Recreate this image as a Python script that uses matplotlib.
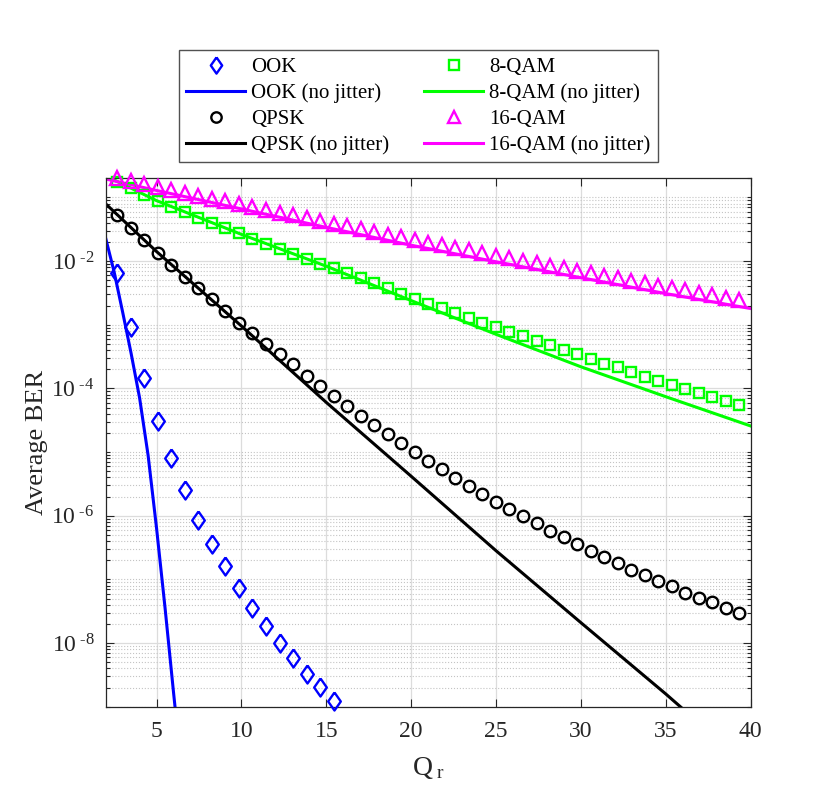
import numpy as np
import matplotlib
matplotlib.use("Agg")
import matplotlib.pyplot as plt
from matplotlib.ticker import LogLocator, FixedLocator, NullFormatter

plt.rcParams["font.family"] = ["Liberation Serif", "DejaVu Serif"]
plt.rcParams["mathtext.fontset"] = "custom"
plt.rcParams["mathtext.rm"] = "Liberation Serif"
plt.rcParams["mathtext.it"] = "Liberation Serif:italic"

# marker positions on the Q_r axis (same for every jittered curve)
q_markers = np.linspace(2.68, 39.34, 47)

# log10(BER), jittered curves (markers)
ook_log = [-2.18, -3.04, -3.83, -4.51, -5.10, -5.60, -6.06, -6.45, -6.79,
           -7.14, -7.45, -7.74, -8.00, -8.24, -8.49, -8.69, -8.91]

qpsk_log = [-1.27, -1.48, -1.67, -1.87, -2.06, -2.245, -2.43, -2.60, -2.785,
            -2.97, -3.135, -3.30, -3.46, -3.62, -3.80, -3.96, -4.12, -4.28,
            -4.43, -4.58, -4.72, -4.86, -5.00, -5.14, -5.27, -5.40, -5.53,
            -5.66, -5.78, -5.90, -6.01, -6.12, -6.24, -6.34, -6.44, -6.55,
            -6.65, -6.75, -6.85, -6.93, -7.03, -7.11, -7.21, -7.30, -7.36,
            -7.45, -7.53]

qam8_log = [-0.75, -0.85, -0.955, -1.055, -1.145, -1.23, -1.315, -1.40,
            -1.485, -1.565, -1.645, -1.725, -1.805, -1.885, -1.96, -2.04,
            -2.115, -2.19, -2.27, -2.35, -2.43, -2.51, -2.59, -2.67, -2.74,
            -2.81, -2.89, -2.97, -3.04, -3.11, -3.18, -3.26, -3.32, -3.40,
            -3.46, -3.54, -3.61, -3.67, -3.74, -3.815, -3.88, -3.95, -4.01,
            -4.07, -4.14, -4.20, -4.265]

qam16_log = [-0.700, -0.746, -0.792, -0.838, -0.883, -0.928, -0.973, -1.018,
             -1.063, -1.107, -1.151, -1.195, -1.239, -1.283, -1.326, -1.369,
             -1.412, -1.455, -1.498, -1.540, -1.582, -1.624, -1.666, -1.708,
             -1.749, -1.790, -1.831, -1.872, -1.913, -1.953, -1.993, -2.033,
             -2.073, -2.113, -2.152, -2.191, -2.230, -2.269, -2.308, -2.346,
             -2.384, -2.422, -2.460, -2.498, -2.535, -2.572, -2.609]

# no-jitter curves (lines)
q_ook_line = [2.0, 2.5, 3.0, 3.5, 4.0, 4.5, 5.0, 5.5, 6.0, 6.3]
ook_line_log = [-1.64, -2.17, -2.80, -3.45, -4.15, -5.05, -6.20, -7.45, -8.78, -9.55]

q_line = [2, 5, 10, 15, 20, 25, 30, 35, 36.5]
qpsk_line_log = [-1.10, -1.85, -3.02, -4.22, -5.38, -6.55, -7.68, -8.80, -9.15]

q_qam_line = [2, 5, 10, 15, 20, 25, 30, 35, 40]
qam8_line_log = [-0.66, -1.05, -1.58, -2.08, -2.62, -3.15, -3.66, -4.13, -4.59]
qam16_line_log = [-0.71, -0.89, -1.18, -1.47, -1.75, -2.01, -2.26, -2.51, -2.745]

ytick_vals = [1e-8, 1e-6, 1e-4, 1e-2]
ytick_labels = ["$10^{\\ \u20108}$", "$10^{\\ \u20106}$",
                "$10^{\\ \u20104}$", "$10^{\\ \u20102}$"]

blue = (0, 0, 1)
green = (0, 1, 0)
magenta = (1, 0, 1)
ink = "#262626"

# MATLAB-like diamond (a bit taller than wide)
diamond = [(0, 1), (0.7, 0), (0, -1), (-0.7, 0), (0, 1)]

fig = plt.figure(figsize=(8.3, 7.96), dpi=100)
ax = fig.add_axes([0.1273, 0.1122, 0.7771, 0.6638])

mk = dict(linestyle="none", markerfacecolor="none", markeredgewidth=1.7)
lw = 2.2

h1, = ax.semilogy(q_markers[:len(ook_log)], 10.0 ** np.array(ook_log),
                  marker=diamond, markersize=13, color=blue, label="OOK", **mk)
h2, = ax.semilogy(q_ook_line, 10.0 ** np.array(ook_line_log), color=blue,
                  lw=lw, label="OOK (no jitter)")
h3, = ax.semilogy(q_markers, 10.0 ** np.array(qpsk_log), marker="o",
                  markersize=8.3, color="k", label="QPSK", **mk)
h4, = ax.semilogy(q_line, 10.0 ** np.array(qpsk_line_log), color="k",
                  lw=lw, label="QPSK (no jitter)")
h5, = ax.semilogy(q_markers, 10.0 ** np.array(qam8_log), marker="s",
                  markersize=7.5, color=green, label="8-QAM", **mk)
h6, = ax.semilogy(q_qam_line, 10.0 ** np.array(qam8_line_log), color=green,
                  lw=lw, label="8-QAM (no jitter)")
h7, = ax.semilogy(q_markers, 10.0 ** np.array(qam16_log), marker="^",
                  markersize=9.5, color=magenta, label="16-QAM", **mk)
h8, = ax.semilogy(q_qam_line, 10.0 ** np.array(qam16_line_log), color=magenta,
                  lw=lw, label="16-QAM (no jitter)")

for h in (h1, h3, h5, h7):
    h.set_clip_on(False)
    h.set_zorder(3)

ax.set_xlim(2, 40)
ax.set_ylim(1e-9, 0.2)
ax.set_xticks([5, 10, 15, 20, 25, 30, 35, 40])
ax.yaxis.set_major_locator(FixedLocator(ytick_vals))
ax.set_yticklabels(ytick_labels)
ax.yaxis.set_minor_locator(LogLocator(base=10, subs=np.arange(1, 10), numticks=100))
ax.yaxis.set_minor_formatter(NullFormatter())

ax.grid(True, which="major", color="#dcdcdc", linestyle="-", linewidth=0.9)
ax.grid(True, which="minor", axis="y", color="#c4c4c4", linestyle=":", linewidth=0.8)
ax.set_axisbelow(True)

ax.tick_params(which="both", direction="in", top=True, right=True,
               labelsize=17, colors=ink, width=0.8)
ax.tick_params(which="major", length=6)
ax.tick_params(which="minor", length=3)
ax.tick_params(axis="x", pad=10)
ax.tick_params(axis="y", pad=8)
for s in ax.spines.values():
    s.set_color(ink)
    s.set_linewidth(0.9)

ax.set_xlabel(r"Q$_{\ \mathrm{r}}$", fontsize=20, color=ink, labelpad=10)
ax.set_ylabel("Average BER", fontsize=19, color=ink, labelpad=2)

handles = [h1, h2, h3, h4, h5, h6, h7, h8]
leg = fig.legend(handles, [h.get_label() for h in handles],
                 ncol=2, loc="upper center", bbox_to_anchor=(0.504, 0.937),
                 borderaxespad=0, fontsize=15, frameon=True, fancybox=False,
                 edgecolor=ink, handlelength=2.8, handletextpad=0.3,
                 columnspacing=1.7, labelspacing=0.3, borderpad=0.35,
                 markerscale=0.9)
leg.get_frame().set_linewidth(1.0)

fig.savefig("out.png", dpi=100)
